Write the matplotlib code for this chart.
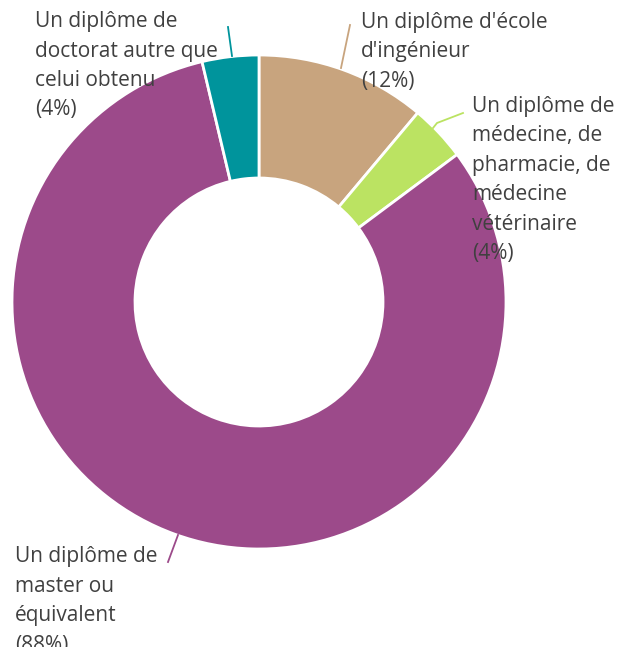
import matplotlib
matplotlib.use('Agg')
import matplotlib.pyplot as plt

labels = ["Un diplôme d'école\nd'ingénieur\n(12%)",
          "Un diplôme de\nmédecine, de\npharmacie, de\nmédecine\nvétérinaire\n(4%)",
          "Un diplôme de\nmaster ou\néquivalent\n(88%)",
          "Un diplôme de\ndoctorat autre que\ncelui obtenu\n(4%)"]
values = [12, 4, 88, 4]
colors = ['#C8A47E', '#BBE362', '#9C4A8A', '#00949C']

W, H = 621, 647
fig = plt.figure(figsize=(W / 100, H / 100), dpi=100)
ax = fig.add_axes([0, 0, 1, 1])

cx, cy, r = 259, H - 302, 247
ax.pie(values, colors=colors, startangle=90, counterclock=False,
       center=(cx, cy), radius=r, frame=True,
       wedgeprops=dict(width=r - 124, edgecolor='white', linewidth=2))
ax.set_xlim(0, W)
ax.set_ylim(0, H)
ax.set_aspect('equal')
ax.axis('off')

# label positions: left x and first baseline (pixels from top), leader lines
text_pos = [(361, 28), (472, 112), (15, 562), (35, 27)]
leaders = [[(350, 25), (341, 68)],
           [(463, 113), (437, 123), (433, 128)],
           [(178, 535), (168, 562)],
           [(228, 27), (232, 56)]]
step = 29.5

for lab, (tx, ty), pts, c in zip(labels, text_pos, leaders, colors):
    for i, line in enumerate(lab.split('\n')):
        ax.text(tx, H - (ty + i * step), line, ha='left', va='baseline',
                fontsize=15, family='Open Sans', color='#404040')
    ax.plot([p[0] for p in pts], [H - p[1] for p in pts], color=c, lw=1.3)

fig.savefig('out.png', dpi=100)
